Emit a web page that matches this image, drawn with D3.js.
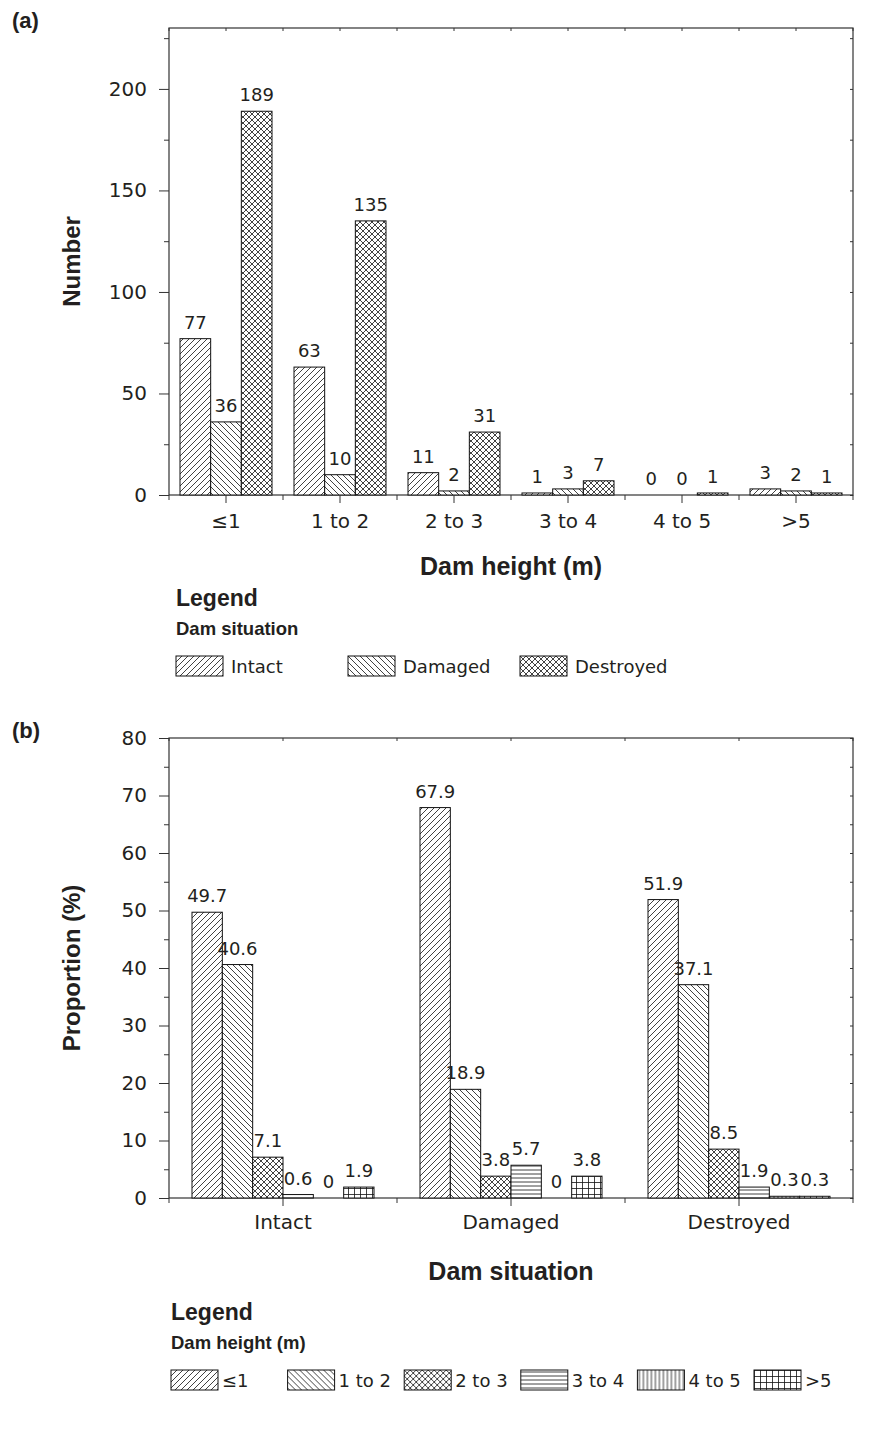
<!DOCTYPE html>
<html>
<head>
<meta charset="utf-8">
<script src="https://cdn.jsdelivr.net/npm/d3@7"></script>
<style>
  body { margin: 0; background: #fff; }
  svg text { fill: #231f20; }
  .tick text { font-family: "DejaVu Sans", sans-serif; font-size: 20px; fill: #231f20; }
  .tick line, .domain { stroke: #333; }
</style>
</head>
<body>
<div id="chart"></div>
<script>
//categories
var heightClasses = ["≤1", "1 to 2", "2 to 3", "3 to 4", "4 to 5", ">5"];
var situations = ["Intact", "Damaged", "Destroyed"];

//panel (a): number of dams in each height class, by situation
var intactNumber = [77, 63, 11, 1, 0, 3];
var damagedNumber = [36, 10, 2, 3, 0, 2];
var destroyedNumber = [189, 135, 31, 7, 1, 1];

//panel (b): proportion (%) of each height class, by situation
var propLe1 = [49.7, 67.9, 51.9];
var prop1to2 = [40.6, 18.9, 37.1];
var prop2to3 = [7.1, 3.8, 8.5];
var prop3to4 = [0.6, 5.7, 1.9];
var prop4to5 = [0, 0, 0.3];
var propGt5 = [1.9, 3.8, 0.3];

//tick values
var numberTicks = [0, 50, 100, 150, 200];
var numberMinor = [25, 75, 125, 175, 225];
var propTicks = [0, 10, 20, 30, 40, 50, 60, 70, 80];
var propMinor = [5, 15, 25, 35, 45, 55, 65, 75];

var w = 869;
var h = 1431;
var bold = '"Liberation Sans", Arial, sans-serif';
var plain = '"DejaVu Sans", sans-serif';

var svg = d3.select('#chart')
  .append('svg')
  .attr('width', w)
  .attr('height', h);

//hatch patterns
var defs = svg.append('defs');
function addPattern(id, size, d) {
  defs.append('pattern')
    .attr('id', id)
    .attr('patternUnits', 'userSpaceOnUse')
    .attr('width', size)
    .attr('height', size)
    .call(function(p) {
      p.append('rect').attr('width', size).attr('height', size).attr('fill', '#fff');
      p.append('path').attr('d', d).attr('stroke', '#111').attr('stroke-width', 0.8).attr('fill', 'none');
    });
}
addPattern('diagUp', 6, 'M-1,1 L1,-1 M0,6 L6,0 M5,7 L7,5');
addPattern('diagDown', 6, 'M-1,5 L1,7 M0,0 L6,6 M5,-1 L7,1');
addPattern('cross', 6, 'M-1,1 L1,-1 M0,6 L6,0 M5,7 L7,5 M-1,5 L1,7 M0,0 L6,6 M5,-1 L7,1');
addPattern('horiz', 4, 'M0,2 H4');
addPattern('vert', 4, 'M2,0 V4');
addPattern('grid', 6, 'M0,0.5 H6 M0.5,0 V6');

function drawPanel(cfg) {
  var g = svg.append('g');
  var x0 = d3.scaleBand().domain(cfg.cats).range([cfg.left, cfg.right]);
  var x1 = d3.scaleBand().domain(cfg.series.map(function(s) { return s.name; }))
    .range([cfg.pad, x0.bandwidth() - cfg.pad]);
  var y = d3.scaleLinear().domain([0, cfg.yMax]).range([cfg.bottom, cfg.top]);

  //frame
  g.append('rect')
    .attr('x', cfg.left).attr('y', cfg.top)
    .attr('width', cfg.right - cfg.left).attr('height', cfg.bottom - cfg.top)
    .attr('fill', 'none').attr('stroke', '#333').attr('stroke-width', 1.2);

  //bars
  cfg.series.forEach(function(s) {
    var sg = g.append('g');
    sg.selectAll('rect')
      .data(s.values)
      .enter()
      .append('rect')
      .attr('x', function(d, i) { return x0(cfg.cats[i]) + x1(s.name); })
      .attr('y', function(d) { return y(d); })
      .attr('width', x1.bandwidth())
      .attr('height', function(d) { return y(0) - y(d); })
      .attr('fill', 'url(#' + s.pattern + ')')
      .attr('stroke', '#111')
      .attr('stroke-width', 1);
    sg.selectAll('text')
      .data(s.values)
      .enter()
      .append('text')
      .attr('x', function(d, i) { return x0(cfg.cats[i]) + x1(s.name) + x1.bandwidth() / 2; })
      .attr('y', function(d) { return y(d) - 10; })
      .attr('text-anchor', 'middle')
      .style('font-family', plain)
      .style('font-size', '18px')
      .text(function(d) { return String(d); });
  });

  //y axis
  g.append('g')
    .attr('transform', 'translate(' + cfg.left + ',0)')
    .call(d3.axisLeft(y).tickValues(cfg.ticks).tickSize(10).tickPadding(12).tickSizeOuter(0))
    .call(function(a) { a.select('.domain').remove(); });
  g.append('g')
    .attr('transform', 'translate(' + cfg.left + ',0)')
    .call(d3.axisLeft(y).tickValues(cfg.minor).tickSize(5).tickFormat('').tickSizeOuter(0))
    .call(function(a) { a.select('.domain').remove(); });
  //small inner ticks on the right frame
  g.append('g')
    .attr('transform', 'translate(' + cfg.right + ',0)')
    .call(d3.axisLeft(y).tickValues(cfg.ticks.concat(cfg.minor)).tickSize(3).tickFormat('').tickSizeOuter(0))
    .call(function(a) { a.select('.domain').remove(); a.selectAll('line').attr('x2', -3); });

  //x axis
  g.append('g')
    .attr('transform', 'translate(0,' + cfg.bottom + ')')
    .call(d3.axisBottom(x0).tickSize(8).tickPadding(cfg.xPad).tickSizeOuter(0))
    .call(function(a) { a.select('.domain').remove(); });
  var bounds = cfg.cats.map(function(c) { return x0(c); }).concat([cfg.right]);
  g.append('g').selectAll('line')
    .data(bounds)
    .enter()
    .append('line')
    .attr('x1', function(d) { return d; }).attr('x2', function(d) { return d; })
    .attr('y1', cfg.bottom).attr('y2', cfg.bottom + 5)
    .attr('stroke', '#333');
  //small inner ticks on the top frame
  var topTicks = bounds.concat(cfg.cats.map(function(c) { return x0(c) + x0.bandwidth() / 2; }));
  g.append('g').selectAll('line')
    .data(topTicks)
    .enter()
    .append('line')
    .attr('x1', function(d) { return d; }).attr('x2', function(d) { return d; })
    .attr('y1', cfg.top).attr('y2', cfg.top + 3)
    .attr('stroke', '#333');

  //titles
  g.append('text')
    .attr('x', 12).attr('y', cfg.top)
    .style('font-family', bold).style('font-weight', 'bold').style('font-size', '22px')
    .text(cfg.tag);
  g.append('text')
    .attr('x', (cfg.left + cfg.right) / 2).attr('y', cfg.bottom + cfg.xTitleDy)
    .attr('text-anchor', 'middle')
    .style('font-family', bold).style('font-weight', 'bold').style('font-size', '25px')
    .text(cfg.xTitle);
  g.append('text')
    .attr('transform', 'translate(80,' + (cfg.top + cfg.bottom) / 2 + ') rotate(-90)')
    .attr('text-anchor', 'middle')
    .style('font-family', bold).style('font-weight', 'bold').style('font-size', '24px')
    .text(cfg.yTitle);

  //legend
  var L = cfg.legend;
  g.append('text')
    .attr('x', L.x).attr('y', L.y)
    .style('font-family', bold).style('font-weight', 'bold').style('font-size', '23px')
    .text('Legend');
  g.append('text')
    .attr('x', L.x).attr('y', L.y + 29)
    .style('font-family', bold).style('font-weight', 'bold').style('font-size', '18.5px')
    .text(L.sub);
  var items = g.append('g').selectAll('g')
    .data(cfg.series)
    .enter()
    .append('g')
    .attr('transform', function(d, i) { return 'translate(' + (L.x + i * L.step) + ',' + (L.y + 50) + ')'; });
  items.append('rect')
    .attr('width', 47).attr('height', 20)
    .attr('fill', function(d) { return 'url(#' + d.pattern + ')'; })
    .attr('stroke', '#111');
  items.append('text')
    .attr('x', L.textDx).attr('y', 17)
    .style('font-family', plain).style('font-size', '18px')
    .text(function(d) { return d.name; });
}

drawPanel({
  tag: '(a)',
  cats: heightClasses,
  series: [
    { name: 'Intact', values: intactNumber, pattern: 'diagUp' },
    { name: 'Damaged', values: damagedNumber, pattern: 'diagDown' },
    { name: 'Destroyed', values: destroyedNumber, pattern: 'cross' }
  ],
  left: 169, right: 853, top: 28, bottom: 495, yMax: 230, pad: 11,
  ticks: numberTicks, minor: numberMinor, xPad: 11, xTitleDy: 80,
  xTitle: 'Dam height (m)', yTitle: 'Number',
  legend: { x: 176, y: 606, step: 172, textDx: 55, sub: 'Dam situation' }
});

drawPanel({
  tag: '(b)',
  cats: situations,
  series: [
    { name: '≤1', values: propLe1, pattern: 'diagUp' },
    { name: '1 to 2', values: prop1to2, pattern: 'diagDown' },
    { name: '2 to 3', values: prop2to3, pattern: 'cross' },
    { name: '3 to 4', values: prop3to4, pattern: 'horiz' },
    { name: '4 to 5', values: prop4to5, pattern: 'vert' },
    { name: '>5', values: propGt5, pattern: 'grid' }
  ],
  left: 169, right: 853, top: 738, bottom: 1198, yMax: 80, pad: 23,
  ticks: propTicks, minor: propMinor, xPad: 9, xTitleDy: 82,
  xTitle: 'Dam situation', yTitle: 'Proportion (%)',
  legend: { x: 171, y: 1320, step: 116.6, textDx: 51, sub: 'Dam height (m)' }
});
</script>
</body>
</html>
